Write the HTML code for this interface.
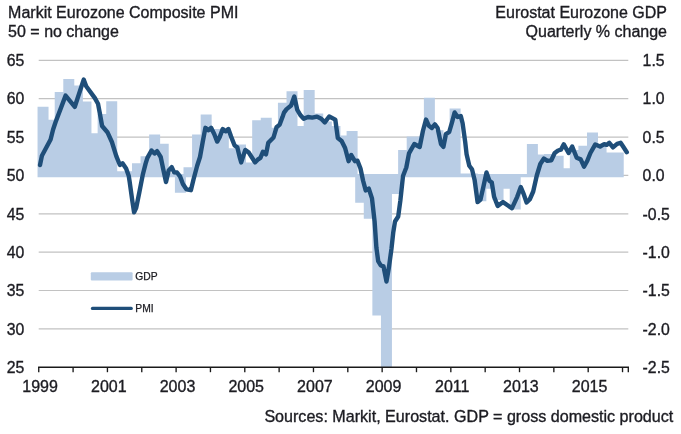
<!DOCTYPE html>
<html><head><meta charset="utf-8"><title>Eurozone PMI and GDP</title>
<style>
html,body{margin:0;padding:0;background:#fff;}
body{width:681px;height:434px;overflow:hidden;}
svg{display:block;font-family:"Liberation Sans",Arial,sans-serif;}
</style></head>
<body>
<svg width="681" height="434" viewBox="0 0 681 434">
<rect width="681" height="434" fill="#ffffff"/>
<g stroke="#c2c2c2" stroke-width="1.2">
<line x1="38.7" x2="628.3" y1="60.30" y2="60.30"/>
<line x1="38.7" x2="628.3" y1="98.67" y2="98.67"/>
<line x1="38.7" x2="628.3" y1="137.04" y2="137.04"/>
<line x1="38.7" x2="628.3" y1="175.41" y2="175.41"/>
<line x1="38.7" x2="628.3" y1="213.78" y2="213.78"/>
<line x1="38.7" x2="628.3" y1="252.15" y2="252.15"/>
<line x1="38.7" x2="628.3" y1="290.52" y2="290.52"/>
<line x1="38.7" x2="628.3" y1="328.89" y2="328.89"/>
</g>
<g fill="#b9cde5">
<path d="M37.55 106.80 L46.13 106.80 L46.13 106.80 L48.54 106.80 L48.54 119.80 L54.72 119.80 L54.72 92.10 L57.12 92.10 L57.12 92.10 L63.30 92.10 L63.30 79.10 L65.70 79.10 L65.70 79.10 L71.89 79.10 L71.89 79.10 L74.29 79.10 L74.29 85.50 L80.48 85.50 L80.48 85.50 L82.88 85.50 L82.88 101.60 L89.06 101.60 L89.06 101.60 L91.46 101.60 L91.46 133.20 L97.64 133.20 L97.64 114.10 L100.05 114.10 L100.05 114.10 L106.23 114.10 L106.23 101.20 L108.63 101.20 L108.63 101.20 L114.82 101.20 L114.82 101.20 L117.22 101.20 L117.22 171.20 L123.40 171.20 L123.40 171.20 L125.80 171.20 L125.80 171.20 L131.99 171.20 L131.99 163.30 L134.38 163.30 L134.38 163.30 L140.57 163.30 L140.57 156.20 L142.97 156.20 L142.97 156.20 L149.16 156.20 L149.16 134.50 L151.56 134.50 L151.56 134.50 L157.74 134.50 L157.74 134.50 L160.14 134.50 L160.14 143.70 L166.33 143.70 L166.33 143.70 L168.72 143.70 L168.72 173.20 L174.91 173.20 L174.91 173.20 L177.31 173.20 L177.31 173.90 L183.50 173.90 L183.50 167.20 L185.90 167.20 L185.90 167.20 L192.08 167.20 L192.08 134.50 L194.48 134.50 L194.48 134.50 L200.67 134.50 L200.67 114.40 L203.06 114.40 L203.06 114.40 L209.25 114.40 L209.25 114.40 L211.65 114.40 L211.65 129.00 L217.84 129.00 L217.84 129.00 L220.24 129.00 L220.24 129.00 L226.42 129.00 L226.42 129.00 L228.82 129.00 L228.82 148.20 L235.01 148.20 L235.01 144.60 L237.41 144.60 L237.41 144.60 L243.59 144.60 L243.59 144.60 L245.99 144.60 L245.99 162.40 L252.18 162.40 L252.18 120.30 L254.58 120.30 L254.58 120.30 L260.76 120.30 L260.76 117.70 L263.16 117.70 L263.16 117.70 L269.35 117.70 L269.35 117.70 L271.75 117.70 L271.75 127.80 L277.93 127.80 L277.93 102.80 L280.33 102.80 L280.33 102.80 L286.52 102.80 L286.52 91.30 L288.92 91.30 L288.92 91.30 L295.10 91.30 L295.10 91.30 L297.50 91.30 L297.50 126.00 L303.69 126.00 L303.69 89.90 L306.09 89.90 L306.09 89.90 L312.27 89.90 L312.27 89.90 L314.67 89.90 L314.67 113.50 L320.86 113.50 L320.86 113.50 L323.25 113.50 L323.25 121.50 L329.44 121.50 L329.44 121.50 L331.84 121.50 L331.84 126.00 L338.03 126.00 L338.03 126.00 L340.43 126.00 L340.43 135.60 L346.61 135.60 L346.61 130.90 L349.01 130.90 L349.01 130.90 L355.20 130.90 L355.20 130.90 L357.60 130.90 L357.60 173.90 L363.78 173.90 L363.78 173.90 L366.18 173.90 L366.18 173.90 L372.37 173.90 L372.37 173.90 L374.77 173.90 L374.77 173.90 L380.95 173.90 L380.95 173.90 L383.35 173.90 L383.35 173.90 L389.54 173.90 L389.54 173.90 L391.94 173.90 L391.94 173.90 L398.12 173.90 L398.12 150.10 L400.52 150.10 L400.52 150.10 L406.71 150.10 L406.71 136.40 L409.11 136.40 L409.11 136.40 L415.29 136.40 L415.29 136.40 L417.69 136.40 L417.69 136.40 L423.88 136.40 L423.88 97.80 L426.28 97.80 L426.28 97.80 L432.46 97.80 L432.46 97.80 L434.86 97.80 L434.86 130.20 L441.05 130.20 L441.05 130.20 L443.45 130.20 L443.45 133.70 L449.63 133.70 L449.63 108.50 L452.03 108.50 L452.03 108.50 L458.22 108.50 L458.22 108.50 L460.62 108.50 L460.62 173.60 L466.80 173.60 L466.80 173.60 L469.20 173.60 L469.20 173.60 L475.39 173.60 L475.39 173.60 L477.79 173.60 L477.79 173.90 L483.97 173.90 L483.97 173.90 L486.37 173.90 L486.37 173.90 L492.56 173.90 L492.56 173.90 L494.96 173.90 L494.96 173.90 L501.14 173.90 L501.14 173.90 L503.54 173.90 L503.54 173.90 L509.73 173.90 L509.73 173.90 L512.13 173.90 L512.13 173.90 L518.31 173.90 L518.31 173.90 L520.71 173.90 L520.71 173.90 L526.89 173.90 L526.89 144.10 L529.30 144.10 L529.30 144.10 L535.48 144.10 L535.48 144.10 L537.88 144.10 L537.88 154.60 L544.07 154.60 L544.07 154.00 L546.47 154.00 L546.47 154.00 L552.65 154.00 L552.65 154.00 L555.05 154.00 L555.05 155.70 L561.24 155.70 L561.24 155.70 L563.64 155.70 L563.64 168.30 L569.82 168.30 L569.82 150.00 L572.22 150.00 L572.22 150.00 L578.40 150.00 L578.40 145.70 L580.81 145.70 L580.81 145.70 L586.99 145.70 L586.99 132.40 L589.39 132.40 L589.39 132.40 L595.58 132.40 L595.58 132.40 L597.98 132.40 L597.98 145.00 L604.16 145.00 L604.16 145.00 L606.56 145.00 L606.56 152.50 L612.75 152.50 L612.75 152.50 L615.15 152.50 L615.15 152.50 L623.73 152.50 L623.73 177.30 L615.15 177.30 L615.15 177.30 L612.75 177.30 L612.75 177.30 L606.56 177.30 L606.56 177.30 L604.16 177.30 L604.16 177.30 L597.98 177.30 L597.98 177.30 L595.58 177.30 L595.58 177.30 L589.39 177.30 L589.39 177.30 L586.99 177.30 L586.99 177.30 L580.81 177.30 L580.81 177.30 L578.40 177.30 L578.40 177.30 L572.22 177.30 L572.22 177.30 L569.82 177.30 L569.82 177.30 L563.64 177.30 L563.64 177.30 L561.24 177.30 L561.24 177.30 L555.05 177.30 L555.05 177.30 L552.65 177.30 L552.65 177.30 L546.47 177.30 L546.47 177.30 L544.07 177.30 L544.07 177.30 L537.88 177.30 L537.88 177.30 L535.48 177.30 L535.48 177.30 L529.30 177.30 L529.30 177.30 L526.89 177.30 L526.89 177.30 L520.71 177.30 L520.71 209.50 L518.31 209.50 L518.31 209.50 L512.13 209.50 L512.13 209.50 L509.73 209.50 L509.73 188.70 L503.54 188.70 L503.54 200.00 L501.14 200.00 L501.14 200.00 L494.96 200.00 L494.96 200.00 L492.56 200.00 L492.56 188.70 L486.37 188.70 L486.37 201.20 L483.97 201.20 L483.97 201.20 L477.79 201.20 L477.79 201.20 L475.39 201.20 L475.39 177.30 L469.20 177.30 L469.20 177.30 L466.80 177.30 L466.80 177.30 L460.62 177.30 L460.62 177.30 L458.22 177.30 L458.22 177.30 L452.03 177.30 L452.03 177.30 L449.63 177.30 L449.63 177.30 L443.45 177.30 L443.45 177.30 L441.05 177.30 L441.05 177.30 L434.86 177.30 L434.86 177.30 L432.46 177.30 L432.46 177.30 L426.28 177.30 L426.28 177.30 L423.88 177.30 L423.88 177.30 L417.69 177.30 L417.69 177.30 L415.29 177.30 L415.29 177.30 L409.11 177.30 L409.11 177.30 L406.71 177.30 L406.71 177.30 L400.52 177.30 L400.52 194.00 L398.12 194.00 L398.12 194.00 L391.94 194.00 L391.94 368.00 L389.54 368.00 L389.54 368.00 L383.35 368.00 L383.35 368.00 L380.95 368.00 L380.95 315.50 L374.77 315.50 L374.77 315.50 L372.37 315.50 L372.37 218.80 L366.18 218.80 L366.18 218.80 L363.78 218.80 L363.78 202.80 L357.60 202.80 L357.60 202.80 L355.20 202.80 L355.20 177.30 L349.01 177.30 L349.01 177.30 L346.61 177.30 L346.61 177.30 L340.43 177.30 L340.43 177.30 L338.03 177.30 L338.03 177.30 L331.84 177.30 L331.84 177.30 L329.44 177.30 L329.44 177.30 L323.25 177.30 L323.25 177.30 L320.86 177.30 L320.86 177.30 L314.67 177.30 L314.67 177.30 L312.27 177.30 L312.27 177.30 L306.09 177.30 L306.09 177.30 L303.69 177.30 L303.69 177.30 L297.50 177.30 L297.50 177.30 L295.10 177.30 L295.10 177.30 L288.92 177.30 L288.92 177.30 L286.52 177.30 L286.52 177.30 L280.33 177.30 L280.33 177.30 L277.93 177.30 L277.93 177.30 L271.75 177.30 L271.75 177.30 L269.35 177.30 L269.35 177.30 L263.16 177.30 L263.16 177.30 L260.76 177.30 L260.76 177.30 L254.58 177.30 L254.58 177.30 L252.18 177.30 L252.18 177.30 L245.99 177.30 L245.99 177.30 L243.59 177.30 L243.59 177.30 L237.41 177.30 L237.41 177.30 L235.01 177.30 L235.01 177.30 L228.82 177.30 L228.82 177.30 L226.42 177.30 L226.42 177.30 L220.24 177.30 L220.24 177.30 L217.84 177.30 L217.84 177.30 L211.65 177.30 L211.65 177.30 L209.25 177.30 L209.25 177.30 L203.06 177.30 L203.06 177.30 L200.67 177.30 L200.67 177.30 L194.48 177.30 L194.48 177.30 L192.08 177.30 L192.08 177.30 L185.90 177.30 L185.90 192.80 L183.50 192.80 L183.50 192.80 L177.31 192.80 L177.31 192.80 L174.91 192.80 L174.91 177.30 L168.72 177.30 L168.72 177.30 L166.33 177.30 L166.33 177.30 L160.14 177.30 L160.14 177.30 L157.74 177.30 L157.74 177.30 L151.56 177.30 L151.56 177.30 L149.16 177.30 L149.16 177.30 L142.97 177.30 L142.97 177.30 L140.57 177.30 L140.57 177.30 L134.38 177.30 L134.38 177.30 L131.99 177.30 L131.99 177.30 L125.80 177.30 L125.80 177.30 L123.40 177.30 L123.40 177.30 L117.22 177.30 L117.22 177.30 L114.82 177.30 L114.82 177.30 L108.63 177.30 L108.63 177.30 L106.23 177.30 L106.23 177.30 L100.05 177.30 L100.05 177.30 L97.64 177.30 L97.64 177.30 L91.46 177.30 L91.46 177.30 L89.06 177.30 L89.06 177.30 L82.88 177.30 L82.88 177.30 L80.48 177.30 L80.48 177.30 L74.29 177.30 L74.29 177.30 L71.89 177.30 L71.89 177.30 L65.70 177.30 L65.70 177.30 L63.30 177.30 L63.30 177.30 L57.12 177.30 L57.12 177.30 L54.72 177.30 L54.72 177.30 L48.54 177.30 L48.54 177.30 L46.13 177.30 L46.13 177.30 L37.55 177.30Z"/>
</g>
<g stroke="#1a1a1a" stroke-width="1.35">
<line x1="38.1" x2="629" y1="367.25" y2="367.25"/>
<line x1="38.75" x2="38.75" y1="367" y2="372.2"/>
<line x1="73.09" x2="73.09" y1="367" y2="372.2"/>
<line x1="107.43" x2="107.43" y1="367" y2="372.2"/>
<line x1="141.77" x2="141.77" y1="367" y2="372.2"/>
<line x1="176.11" x2="176.11" y1="367" y2="372.2"/>
<line x1="210.45" x2="210.45" y1="367" y2="372.2"/>
<line x1="244.79" x2="244.79" y1="367" y2="372.2"/>
<line x1="279.13" x2="279.13" y1="367" y2="372.2"/>
<line x1="313.47" x2="313.47" y1="367" y2="372.2"/>
<line x1="347.81" x2="347.81" y1="367" y2="372.2"/>
<line x1="382.15" x2="382.15" y1="367" y2="372.2"/>
<line x1="416.49" x2="416.49" y1="367" y2="372.2"/>
<line x1="450.83" x2="450.83" y1="367" y2="372.2"/>
<line x1="485.17" x2="485.17" y1="367" y2="372.2"/>
<line x1="519.51" x2="519.51" y1="367" y2="372.2"/>
<line x1="553.85" x2="553.85" y1="367" y2="372.2"/>
<line x1="588.19" x2="588.19" y1="367" y2="372.2"/>
<line x1="622.53" x2="622.53" y1="367" y2="372.2"/>
<line x1="628.3" x2="628.3" y1="367" y2="372.2"/>
</g>
<polyline fill="none" stroke="#1f4e79" stroke-width="4.4" stroke-linejoin="round" stroke-linecap="round" points="40.0,165.1 41.9,155.7 50.6,139.5 53.1,129.5 55.6,122.0 65.6,95.6 74.8,106.8 83.7,79.6 86.2,86.2 94.9,98.1 98.0,103.7 99.9,113.7 102.1,126.0 107.4,132.2 111.9,142.0 116.3,156.2 119.9,165.0 122.5,163.3 126.1,168.6 128.7,175.7 129.6,181.3 132.3,200.8 134.1,212.4 136.2,207.9 139.4,192.0 142.9,174.2 145.6,163.6 147.4,157.9 151.5,150.5 154.5,153.5 157.1,151.2 160.7,157.0 163.3,169.5 166.0,182.0 168.7,170.5 171.7,167.2 174.0,172.2 177.0,172.5 180.2,176.7 182.9,184.0 186.4,189.3 190.9,190.2 193.5,179.5 197.1,166.0 200.0,157.0 202.7,142.0 205.4,127.8 208.5,130.2 211.1,127.8 214.2,134.0 217.2,141.6 219.9,136.6 222.7,129.0 225.7,131.3 228.4,129.0 231.1,136.6 234.6,145.5 237.3,147.3 239.9,157.9 241.2,162.4 245.3,149.9 248.8,152.6 255.0,162.4 257.7,159.7 260.4,157.9 263.0,151.7 266.0,154.4 268.3,142.8 273.5,137.5 276.5,127.3 279.7,124.6 282.5,117.1 284.0,112.6 286.6,109.1 291.1,105.5 294.3,96.6 297.3,109.9 300.3,115.0 303.7,118.8 308.0,117.0 312.2,117.6 317.0,116.6 321.2,118.8 324.8,122.4 329.2,116.5 335.3,119.6 337.8,138.0 341.6,141.0 345.1,148.0 348.6,161.2 351.3,155.0 354.9,161.2 357.5,160.7 360.5,168.5 363.1,180.7 365.7,190.4 368.8,188.6 372.0,198.4 374.6,221.5 376.4,247.8 378.2,261.1 380.8,265.5 383.5,266.4 386.5,281.5 388.8,268.2 391.5,248.5 393.3,232.1 395.0,221.5 398.2,216.5 400.4,200.2 403.0,176.0 406.3,167.5 409.0,153.3 414.3,144.0 419.7,147.0 422.9,131.0 426.0,119.5 428.9,125.8 431.8,128.0 434.9,124.4 437.6,128.0 441.0,144.0 443.4,146.8 445.9,134.2 449.2,132.0 452.0,122.3 454.6,112.5 457.6,117.0 460.8,116.1 462.6,123.2 465.2,142.0 466.6,154.2 469.3,165.7 472.0,169.3 474.6,179.9 477.6,202.1 480.5,199.5 483.5,186.2 486.5,172.5 489.4,180.8 491.8,182.6 494.1,196.8 497.7,206.0 503.0,202.1 508.3,205.7 511.9,208.3 517.2,196.8 520.8,187.0 523.4,193.3 526.6,202.5 529.7,199.5 533.2,191.5 536.8,175.5 540.3,164.0 543.9,158.5 547.4,160.9 551.3,160.3 554.7,153.0 558.1,150.5 560.9,149.7 563.8,144.4 568.6,153.0 572.2,146.5 576.7,157.8 580.7,159.4 584.0,166.7 587.2,161.0 590.4,153.0 595.3,144.4 600.1,146.5 604.2,144.1 606.6,144.9 609.3,142.8 613.0,147.3 617.1,143.8 620.6,142.8 623.6,147.3 626.8,152.2"/>
<g font-size="16px" fill="#1c1c22" stroke="#1c1c22" stroke-width="0.35">
<text x="8.1" y="18.1">Markit Eurozone Composite PMI</text>
<text x="8.1" y="37.1">50 = no change</text>
<text x="667" y="18" text-anchor="end">Eurostat Eurozone GDP</text>
<text x="667" y="37" text-anchor="end">Quarterly % change</text>
<text x="673.3" y="422" text-anchor="end" font-size="16.1px">Sources: Markit, Eurostat. GDP = gross domestic product</text>
</g>
<g font-size="15.8px" fill="#1c1c22" stroke="#1c1c22" stroke-width="0.35">
<text x="24.3" y="66.0" text-anchor="end">65</text>
<text x="24.3" y="104.4" text-anchor="end">60</text>
<text x="24.3" y="142.7" text-anchor="end">55</text>
<text x="24.3" y="181.1" text-anchor="end">50</text>
<text x="24.3" y="219.5" text-anchor="end">45</text>
<text x="24.3" y="257.8" text-anchor="end">40</text>
<text x="24.3" y="296.2" text-anchor="end">35</text>
<text x="24.3" y="334.6" text-anchor="end">30</text>
<text x="24.3" y="373.0" text-anchor="end">25</text>
<text x="642.6" y="66.0">1.5</text>
<text x="642.6" y="104.4">1.0</text>
<text x="642.6" y="142.7">0.5</text>
<text x="642.6" y="181.1">0.0</text>
<text x="642.6" y="219.5">-0.5</text>
<text x="642.6" y="257.8">-1.0</text>
<text x="642.6" y="296.2">-1.5</text>
<text x="642.6" y="334.6">-2.0</text>
<text x="642.6" y="373.0">-2.5</text>
</g>
<g font-size="16px" fill="#1c1c22" stroke="#1c1c22" stroke-width="0.35">
<text x="40.1" y="392.1" text-anchor="middle">1999</text>
<text x="108.8" y="392.1" text-anchor="middle">2001</text>
<text x="177.5" y="392.1" text-anchor="middle">2003</text>
<text x="246.2" y="392.1" text-anchor="middle">2005</text>
<text x="314.9" y="392.1" text-anchor="middle">2007</text>
<text x="383.6" y="392.1" text-anchor="middle">2009</text>
<text x="452.2" y="392.1" text-anchor="middle">2011</text>
<text x="520.9" y="392.1" text-anchor="middle">2013</text>
<text x="589.6" y="392.1" text-anchor="middle">2015</text>
</g>
<rect x="90.8" y="272.2" width="41.8" height="8.4" rx="1" fill="#b9cde5"/>
<line x1="92.5" x2="131.2" y1="308.4" y2="308.4" stroke="#1f4e79" stroke-width="3.3" stroke-linecap="round"/>
<g font-size="10.3px" fill="#1c1c22" stroke="#1c1c22" stroke-width="0.25">
<text x="135.3" y="279.6">GDP</text>
<text x="135.3" y="312">PMI</text>
</g>
</svg>
</body></html>
